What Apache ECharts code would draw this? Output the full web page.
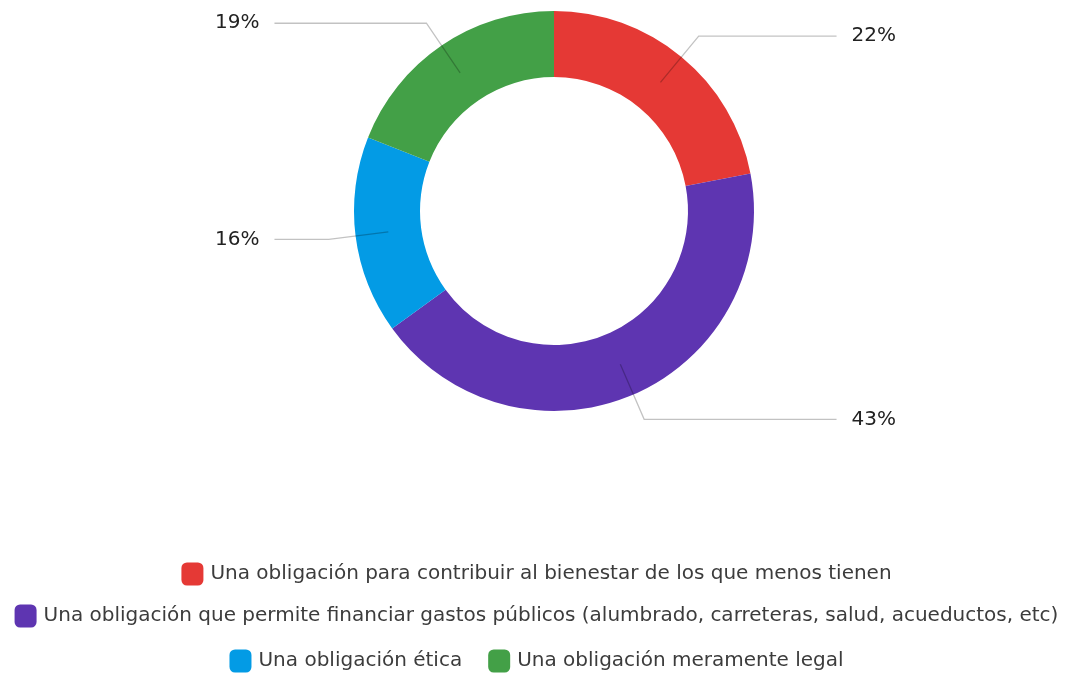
<!DOCTYPE html>
<html>
<head>
<meta charset="utf-8">
<script src="https://cdn.jsdelivr.net/npm/echarts@6/dist/echarts.min.js"></script>
<style>
  html, body { margin: 0; padding: 0; background: #ffffff; }
  #chart { width: 1073px; height: 674px; }
</style>
</head>
<body>
<div id="chart"></div>
<script>
// Categories and their shares (percent)
const categories = [
  'Una obligación para contribuir al bienestar de los que menos tienen',
  'Una obligación que permite financiar gastos públicos (alumbrado, carreteras, salud, acueductos, etc)',
  'Una obligación ética',
  'Una obligación meramente legal'
];
const shares = [22, 43, 16, 19];
const sliceColors = ['#E53935', '#5E35B1', '#039BE5', '#43A047'];

// Legend rows (each row is centred on its own)
const legendRows = [[0], [1], [2, 3]];

const FONT = '"DejaVu Sans", sans-serif';
const CX = 554, CY = 211;
const SERIES_LEFT = 215, SERIES_RIGHT = 177;

const data = categories.map((name, i) => ({ name: name, value: shares[i] }));

const chart = echarts.init(document.getElementById('chart'), null, { renderer: 'canvas' });

const legendCentres = [573, 615, 660];

chart.setOption({
  animation: false,
  color: sliceColors,
  legend: legendRows.map((row, r) => ({
    data: row.map(i => ({ name: categories[i], icon: 'roundRect' })),
    left: 'center',
    top: legendCentres[r] - 16,
    orient: 'horizontal',
    itemWidth: 22,
    itemHeight: 23,
    itemGap: 26,
    selectedMode: false,
    textStyle: { fontFamily: FONT, fontSize: 20, lineHeight: 24, color: '#3c3c3c', padding: [0, 0, 0, 2] }
  })),
  series: [
    {
      // the ring itself
      type: 'pie',
      z: 2,
      left: SERIES_LEFT,
      right: SERIES_RIGHT,
      top: 0,
      bottom: 0,
      center: [CX - SERIES_LEFT, CY],
      radius: [134, 200],
      startAngle: 90,
      clockwise: true,
      silent: true,
      label: { show: false },
      labelLine: { show: false },
      itemStyle: { borderWidth: 0 },
      data: data
    },
    {
      // invisible inner disc that carries the percentage labels and leader lines
      type: 'pie',
      z: 5,
      left: SERIES_LEFT,
      right: SERIES_RIGHT,
      top: 0,
      bottom: 0,
      center: [CX - SERIES_LEFT, CY],
      radius: [0, 167],
      startAngle: 90,
      clockwise: true,
      silent: true,
      itemStyle: { color: 'rgba(0,0,0,0)', borderWidth: 0 },
      label: {
        show: true,
        position: 'outside',
        alignTo: 'edge',
        edgeDistance: 0,
        distanceToLabelLine: 15,
        formatter: p => p.value + '%',
        fontFamily: FONT,
        fontSize: 20,
        color: '#222222'
      },
      labelLine: {
        show: true,
        length: 60,
        length2: 20,
        lineStyle: { color: 'rgba(0,0,0,0.24)', width: 1.3 }
      },
      emphasis: { disabled: true },
      data: data
    }
  ]
});
</script>
</body>
</html>
